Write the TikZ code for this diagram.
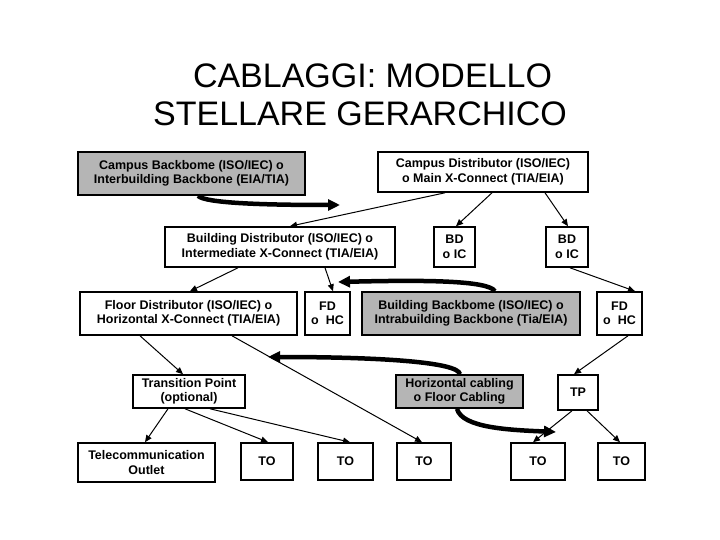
\documentclass[tikz,border=0pt]{standalone}
\usepackage{fontspec}
\setmainfont{Liberation Sans}
\usetikzlibrary{arrows.meta}
\begin{document}
\begin{tikzpicture}[x=1pt,y=-1pt,
  box/.style={draw,line width=1.6pt,fill=white,font=\bfseries\fontsize{12.5}{14.5}\selectfont,align=center,inner sep=0pt},
  gbox/.style={box,fill=gray!95!black!55},
  arr/.style={-{Triangle[length=7pt,width=6pt]},line width=1pt},
  thick arr/.style={-{Triangle[length=12pt,width=11pt]},line width=4.5pt}]
\useasboundingbox (0,0) rectangle (720,540);
\node[font=\fontsize{34}{38}\selectfont,align=center] (title) at (360,95) {\hspace*{25pt}CABLAGGI: MODELLO\\STELLARE GERARCHICO};
\newcommand\bx[7]{\node[#1,minimum width=#4-#2,minimum height=#5-#3] (#6) at ({(#2+#4)/2},{(#3+#5)/2}) {#7};}
\bx{gbox}{78}{152}{305}{195}{cb}{Campus Backbome (ISO/IEC) o\\Interbuilding Backbone (EIA/TIA)}
\bx{box}{378}{152}{588}{192}{cd}{Campus Distributor (ISO/IEC)\\o Main X-Connect (TIA/EIA)}
\bx{box}{165}{227}{395}{267}{bd}{Building Distributor (ISO/IEC) o\\Intermediate X-Connect (TIA/EIA)}
\bx{box}{434}{227}{475}{267}{bda}{BD\\o IC}
\bx{box}{546}{227}{588}{267}{bdb}{BD\\o IC}
\bx{box}{80}{292}{297}{335}{fd}{Floor Distributor (ISO/IEC) o\\Horizontal X-Connect (TIA/EIA)}
\bx{box}{305}{292}{350}{335}{fda}{FD\\o\ \ HC}
\bx{gbox}{362}{292}{580}{335}{bb}{Building Backbome (ISO/IEC) o\\Intrabuilding Backbone (Tia/EIA)}
\bx{box}{597}{292}{642}{335}{fdb}{FD\\o\ \ HC}
\bx{box}{133}{375}{245}{408}{tp}{Transition Point\\(optional)}
\bx{gbox}{396}{375}{523}{408}{hc}{Horizontal cabling\\o Floor Cabling}
\bx{box}{558}{375}{598}{410}{tpb}{TP}
\bx{box}{78}{443}{215}{482}{tel}{Telecommunication\\Outlet}
\bx{box}{241}{443}{293}{480}{toa}{TO}
\bx{box}{318}{443}{373}{480}{tob}{TO}
\bx{box}{397}{443}{451}{480}{toc}{TO}
\bx{box}{511}{443}{565}{480}{tod}{TO}
\bx{box}{598}{443}{645}{480}{toe}{TO}
\draw[arr] (cd.south -| 445,0) -- (bd.north -| 290,0);
\draw[arr] (cd.south -| 492,0) -- (bda.north -| 456,0);
\draw[arr] (cd.south -| 545,0) -- (bdb.north -| 568,0);
\draw[arr] (bd.south -| 238,0) -- (fd.north -| 190,0);
\draw[arr] (bd.south -| 325,0) -- (fda.north -| 333,0);
\draw[arr] (bdb.south -| 570,0) -- (fdb.north -| 635,0);
\draw[arr] (fd.south -| 140,0) -- (tp.north -| 183,0);
\draw[arr] (fd.south -| 232,0) -- (toc.north -| 422,0);
\draw[arr] (fdb.south -| 628,0) -- (tpb.north -| 574,0);
\draw[arr] (tp.south -| 168,0) -- (tel.north -| 145,0);
\draw[arr] (tp.south -| 185,0) -- (toa.north -| 268,0);
\draw[arr] (tp.south -| 210,0) -- (tob.north -| 350,0);
\draw[arr] (tpb.south -| 572,0) -- (tod.north -| 533,0);
\draw[arr] (tpb.south -| 587,0) -- (toe.north -| 620,0);
\coordinate (e1) at (340,205);
\coordinate (e2) at (338,282);
\coordinate (e3) at (268,357);
\coordinate (e4) at (556,432);
\draw[thick arr] (cb.south -| 198,0) .. controls (205,203) and (260,205) .. (e1);
\draw[thick arr] (bb.north -| 495,0) .. controls (488,280) and (420,280) .. (e2);
\draw[thick arr] (hc.north -| 460,0) .. controls (458,362) and (380,357) .. (e3);
\draw[thick arr] (hc.south -| 457,0) .. controls (462,428) and (510,430) .. (e4);
\end{tikzpicture}
\end{document}
